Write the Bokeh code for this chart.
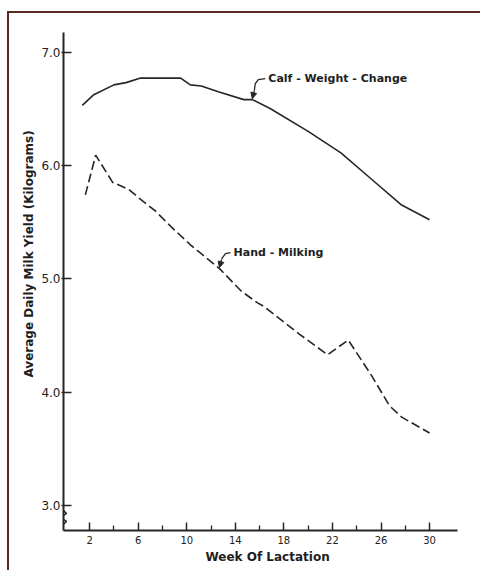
from bokeh.plotting import figure
from bokeh.models import (FixedTicker, Range1d, Label, Arrow, NormalHead,
                          ColumnDataSource, Title)
from bokeh.embed import file_html
from bokeh.resources import INLINE

# Average daily milk yield (kg) by week of lactation
calf_weeks = [1.4, 2.3, 4.0, 5.0, 6.2, 9.5, 10.3, 11.2, 12.6, 14.7, 15.4, 16.9,
              20.0, 22.7, 25.2, 27.7, 30.0]
calf_yield = [6.53, 6.62, 6.71, 6.73, 6.77, 6.77, 6.71, 6.70, 6.65, 6.58, 6.58,
              6.50, 6.30, 6.11, 5.88, 5.65, 5.52]

hand_weeks = [1.65, 2.5, 3.9, 5.2, 6.2, 7.4, 8.7, 10.3, 12.7, 14.5, 15.8, 16.3,
              19.3, 21.6, 23.3, 25.2, 26.7, 27.7, 30.0]
hand_yield = [5.74, 6.09, 5.85, 5.79, 5.70, 5.60, 5.46, 5.30, 5.09, 4.89, 4.79,
              4.76, 4.51, 4.33, 4.46, 4.15, 3.88, 3.78, 3.64]

x_major = [2, 6, 10, 14, 18, 22, 26, 30]
x_minor = [4, 8, 12, 16, 20, 24, 28]
y_major = [3.0, 4.0, 5.0, 6.0, 7.0]

series_names = ["Calf - Weight - Change", "Hand - Milking"]
x_title = "Week Of Lactation"
y_title = "Average Daily Milk Yield (Kilograms)"

# page frame: thin rule on the top and left of the figure
PAD_L, PAD_T, RULE = 7, 11, 2
W, H = 482 - PAD_L - RULE, 572 - PAD_T - RULE
LEFT, RIGHT, TOP, BOTTOM = 54, 25, 19, 42
X_START, X_END = -0.15, 32.3
Y_START, Y_END = 2.78, 7.172
frame_w = W - LEFT - RIGHT
frame_h = H - TOP - BOTTOM
kx = (X_END - X_START) / frame_w     # weeks per pixel
ky = (Y_END - Y_START) / frame_h     # kg per pixel

INK = "#262626"
FONT = "DejaVu Sans"

p = figure(width=W, height=H, output_backend="svg", toolbar_location=None,
           x_range=Range1d(X_START, X_END), y_range=Range1d(Y_START, Y_END),
           min_border_left=LEFT, min_border_right=RIGHT,
           min_border_top=TOP, min_border_bottom=BOTTOM)
p.styles = {"margin-left": f"{PAD_L}px", "margin-top": f"{PAD_T}px",
            "border-left": f"{RULE}px solid #5b2a22",
            "border-top": f"{RULE}px solid #5b2a22"}
p.grid.visible = False
p.outline_line_color = None
p.background_fill_color = "white"
p.border_fill_color = "white"

# axes
xa = p.xaxis[0]
xa.ticker = FixedTicker(ticks=x_major, minor_ticks=x_minor)
xa.major_tick_in = 8
xa.major_tick_out = 0
xa.minor_tick_in = 5
xa.minor_tick_out = 0
xa.major_tick_line_width = 1.5
xa.minor_tick_line_width = 1.3
xa.axis_line_width = 2
xa.axis_line_color = INK
xa.major_tick_line_color = INK
xa.minor_tick_line_color = INK
xa.major_label_standoff = 5
xa.major_label_text_font = FONT
xa.major_label_text_font_size = "10px"
xa.major_label_text_color = "#222222"

ya = p.yaxis[0]
ya.ticker = FixedTicker(ticks=y_major, minor_ticks=[])
ya.major_tick_in = 8
ya.major_tick_out = 2
ya.major_tick_line_width = 1.5
ya.axis_line_width = 2
ya.axis_line_color = INK
ya.major_tick_line_color = INK
ya.major_label_standoff = 1
ya.major_label_text_font = FONT
ya.major_label_text_font_size = "12px"
ya.major_label_text_color = "#222222"
ya.major_label_overrides = {v: f"{v:.1f}" for v in y_major}

# axis titles, set in the side panels
p.add_layout(Title(text=x_title, align="left", offset=142, standoff=2,
                   text_font=FONT, text_font_style="bold",
                   text_font_size="12px", text_color="#1e1e1e"), "below")
p.add_layout(Title(text=y_title, align="left", offset=153, standoff=5,
                   text_font=FONT, text_font_style="bold",
                   text_font_size="12px", text_color="#1e1e1e"), "left")

# the two yield curves
calf_src = ColumnDataSource(dict(week=calf_weeks, kg=calf_yield))
hand_src = ColumnDataSource(dict(week=hand_weeks, kg=hand_yield))
p.line("week", "kg", source=calf_src, line_color=INK, line_width=1.6)
p.line("week", "kg", source=hand_src, line_color=INK, line_width=1.6,
       line_dash="9 4")


def leader(ax, ay, text, dx_text, dy_text):
    """Bent leader from a curve label down to its curve, with an arrowhead."""
    def pt(dx, dy):
        return ax + dx * kx, ay + dy * ky
    tail = pt(2, 9)
    path = [tail, pt(3, dy_text - 5), pt(6, dy_text - 1), pt(dx_text - 3, dy_text)]
    p.line([q[0] for q in path], [q[1] for q in path],
           line_color=INK, line_width=1.3)
    tip = pt(0, 1)
    p.add_layout(Arrow(end=NormalHead(size=6, fill_color=INK, line_color=INK,
                                      line_width=1),
                       x_start=tail[0], y_start=tail[1],
                       x_end=tip[0], y_end=tip[1],
                       line_color=INK, line_width=1.3))
    tx, ty = pt(dx_text, dy_text)
    p.add_layout(Label(x=tx, y=ty, text=text, text_font=FONT,
                       text_font_style="bold", text_font_size="11px",
                       text_color="#1e1e1e", text_align="left",
                       text_baseline="middle"))


leader(calf_weeks[10], calf_yield[10], series_names[0], 16, 21)
leader(hand_weeks[8], hand_yield[8], series_names[1], 14, 16)

# scale break on the value axis, just below 3.0
brk_y = [y_major[0] - d for d in (0.045, 0.07, 0.105, 0.14, 0.165)]
brk_x = [X_START + d * kx for d in (0, 3, -3, 3, 0)]
p.line(brk_x, brk_y, line_color=INK, line_width=1.5)

open("out.html", "w").write(file_html(p, INLINE))
